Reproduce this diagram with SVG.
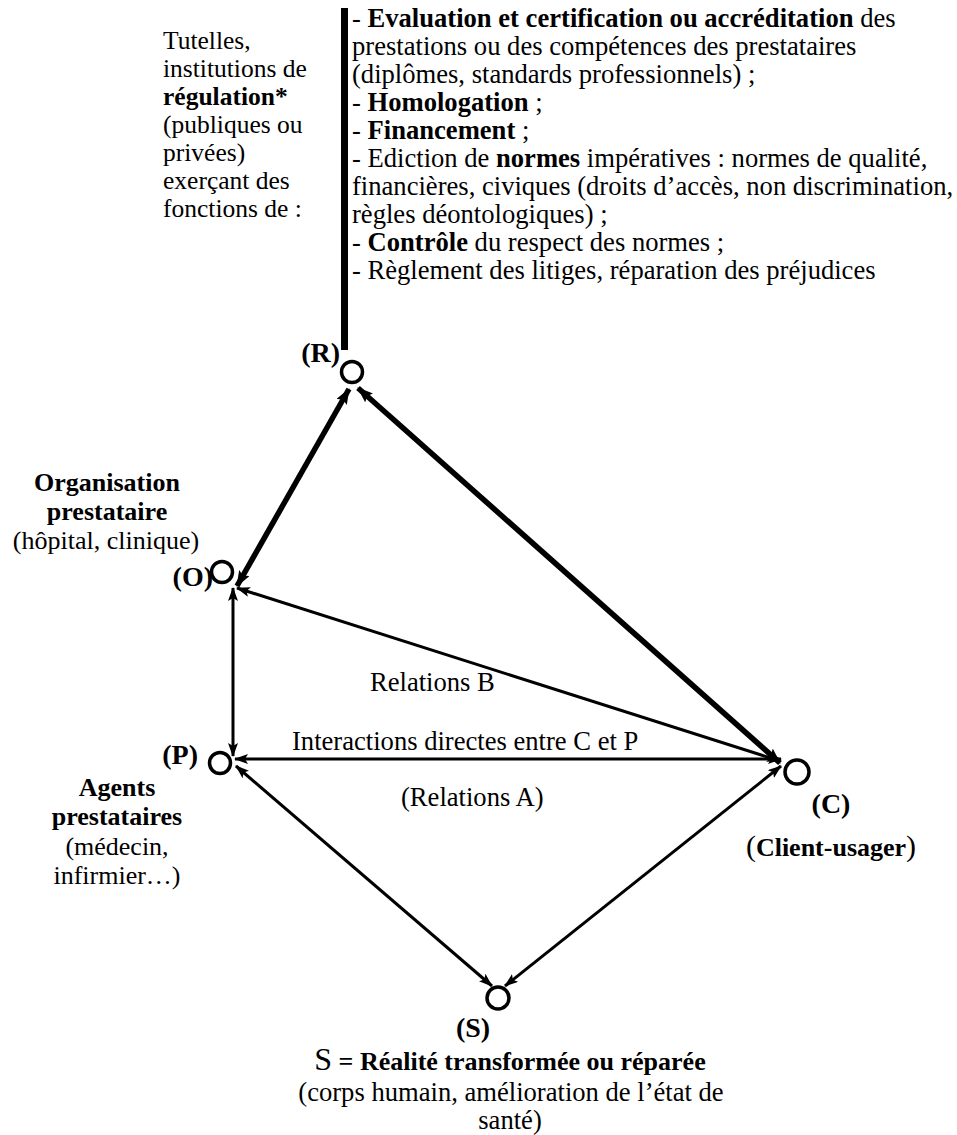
<svg xmlns="http://www.w3.org/2000/svg" width="957" height="1135" viewBox="0 0 957 1135">
<style>
text{fill:#000;font-size:26px}
.r{font-size:26.6px}
.l{font-size:25.5px}
.b{font-weight:bold}
.lbl{font-weight:bold;font-size:28px}
.node{fill:#fff;stroke:#000;stroke-width:3.5}
.thin{stroke:#000;stroke-width:3;fill:none}
.thick{stroke:#000;stroke-width:5.5;fill:none}
</style>
<defs>
<marker id="ah" viewBox="0 0 14 10" refX="13" refY="5" markerWidth="14" markerHeight="10" markerUnits="userSpaceOnUse" orient="auto-start-reverse">
<path d="M0,0 L14,5 L0,10 L3,5 z" fill="#000"/>
</marker>
<marker id="ahT" viewBox="0 0 16 12" refX="15" refY="6" markerWidth="16" markerHeight="12" markerUnits="userSpaceOnUse" orient="auto-start-reverse">
<path d="M0,0 L16,6 L0,12 L3,6 z" fill="#000"/>
</marker>
</defs>
<rect x="341" y="8" width="7" height="342" fill="#000"/>
<g font-family="Liberation Serif, Times New Roman, DejaVu Serif, serif">
<g id="regulation-text">
<text class="r" x="352" y="27"><tspan>- </tspan><tspan class="b">Evaluation et certification ou accréditation</tspan><tspan> des</tspan></text>
<text class="r" x="352" y="55">prestations ou des compétences des prestataires</text>
<text class="r" x="352" y="83">(diplômes, standards professionnels) ;</text>
<text class="r" x="352" y="111"><tspan>- </tspan><tspan class="b">Homologation</tspan><tspan> ;</tspan></text>
<text class="r" x="352" y="139"><tspan>- </tspan><tspan class="b">Financement</tspan><tspan> ;</tspan></text>
<text class="r" x="352" y="167"><tspan>- Ediction de </tspan><tspan class="b">normes</tspan><tspan> impératives : normes de qualité,</tspan></text>
<text class="r" x="352" y="195">financières, civiques (droits d’accès, non discrimination,</text>
<text class="r" x="352" y="223">règles déontologiques) ;</text>
<text class="r" x="352" y="251"><tspan>- </tspan><tspan class="b">Contrôle</tspan><tspan> du respect des normes ;</tspan></text>
<text class="r" x="352" y="279">- Règlement des litiges, réparation des préjudices</text>
</g>
<g id="tutelles-text">
<text class="l" x="163" y="49">Tutelles,</text>
<text class="l" x="163" y="77">institutions de</text>
<text class="l b" x="163" y="105">régulation*</text>
<text class="l" x="163" y="133">(publiques ou</text>
<text class="l" x="163" y="161">privées)</text>
<text class="l" x="163" y="189">exerçant des</text>
<text class="l" x="163" y="217">fonctions de :</text>
</g>
<g id="connectors">
<line class="thick" x1="237" y1="586" x2="349" y2="389" marker-start="url(#ahT)" marker-end="url(#ahT)"/>
<line class="thick" x1="780" y1="763" x2="358" y2="388" marker-start="url(#ahT)" marker-end="url(#ahT)"/>
<line class="thin" x1="780" y1="761" x2="237" y2="588" marker-start="url(#ah)" marker-end="url(#ah)"/>
<line class="thin" x1="233" y1="588" x2="233" y2="756" marker-start="url(#ah)" marker-end="url(#ah)"/>
<line class="thin" x1="781" y1="759" x2="235" y2="759" marker-start="url(#ah)" marker-end="url(#ah)"/>
<line class="thin" x1="236" y1="766" x2="492" y2="986" marker-start="url(#ah)" marker-end="url(#ah)"/>
<line class="thin" x1="781" y1="766" x2="505" y2="986" marker-start="url(#ah)" marker-end="url(#ah)"/>
</g>
<g id="edge-labels">
<text class="r" x="370" y="691">Relations B</text>
<text class="r" x="292" y="750">Interactions directes entre C et P</text>
<text class="r" x="401" y="806">(Relations A)</text>
</g>
<g id="node-R">
<circle class="node" cx="352" cy="372" r="10.5"/>
<text class="lbl" x="340" y="362" text-anchor="end">(R)</text>
</g>
<g id="node-O">
<circle class="node" cx="222" cy="572" r="10.5"/>
<text class="lbl" x="213" y="586" text-anchor="end">(O)</text>
<text class="b" x="107" y="491" text-anchor="middle">Organisation</text>
<text class="b" x="107" y="520" text-anchor="middle">prestataire</text>
<text x="106" y="549" text-anchor="middle">(hôpital, clinique)</text>
</g>
<g id="node-P">
<circle class="node" cx="220" cy="763" r="10.5"/>
<text class="lbl" x="198" y="764" text-anchor="end">(P)</text>
<text class="b" x="117" y="796" text-anchor="middle">Agents</text>
<text class="b" x="117" y="825" text-anchor="middle">prestataires</text>
<text x="117" y="855" text-anchor="middle">(médecin,</text>
<text x="117" y="884" text-anchor="middle">infirmier…)</text>
</g>
<g id="node-C">
<circle class="node" cx="797" cy="772" r="12"/>
<text class="lbl" x="831" y="813" text-anchor="middle">(C)</text>
<text x="831" y="856" text-anchor="middle"><tspan font-size="30">(</tspan><tspan class="b">Client-usager</tspan><tspan font-size="30">)</tspan></text>
</g>
<g id="node-S">
<circle class="node" cx="498" cy="998" r="11"/>
<text class="lbl" x="473" y="1037" text-anchor="middle">(S)</text>
<text x="510" y="1070" text-anchor="middle"><tspan font-size="32">S</tspan><tspan class="b"> = Réalité transformée ou réparée</tspan></text>
<text class="r" x="511" y="1101" text-anchor="middle">(corps humain, amélioration de l’état de</text>
<text class="r" x="510" y="1129" text-anchor="middle">santé)</text>
</g>
</g>
</svg>
